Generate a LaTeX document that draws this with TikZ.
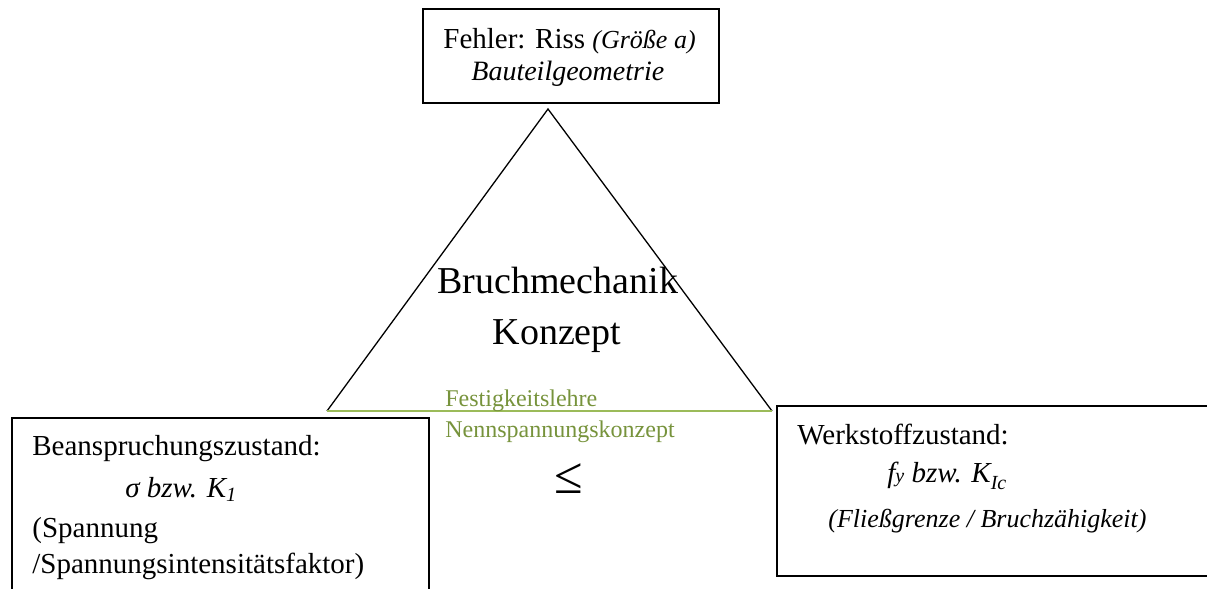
\documentclass[tikz,border=0pt]{standalone}
\usepackage{fontspec}
\setmainfont{Liberation Serif}
\usetikzlibrary{positioning}
\definecolor{olivetext}{RGB}{119,147,60}
\definecolor{oliveline}{RGB}{155,187,89}

\begin{document}
\begin{tikzpicture}[x=0.5pt, y=-0.5pt,
    txt/.style={anchor=base west, inner sep=0pt, font=\fontsize{14.5}{17}\selectfont},
    greentxt/.style={txt, text=olivetext, font=\fontsize{12}{14}\selectfont},
    bigtxt/.style={inner sep=0pt, font=\fontsize{19}{22}\selectfont},
    boxline/.style={draw=black, line width=0.65pt}]
    \clip (0,0) rectangle (1207,589);
    % boxes
    \draw[boxline] (423,9) rectangle (719,103);
    \draw[boxline] (12,418) rectangle (429,600);
    \draw[boxline] (777,406) rectangle (1220,576);
    % triangle
    \coordinate (apex) at (548,109);
    \coordinate (baseL) at (327,411);
    \coordinate (baseR) at (772,411);
    \draw[boxline] (baseL) -- (apex) -- (baseR);
    \draw[oliveline, line width=1pt] (baseL) -- (baseR);
    % top box
    \node[txt] (fehler) at (443,48) {Fehler: Riss \textit{\fontsize{13}{15}\selectfont(Größe a)}};
    \node[txt, font=\itshape\fontsize{14}{17}\selectfont] (geom) at (471,81) {Bauteilgeometrie};
    % centre
    \node[bigtxt, anchor=base west] (bruch) at (437,293) {Bruchmechanik};
    \node[bigtxt, anchor=base] (konzept) at (557,344) {Konzept};
    \node[greentxt] (festig) at (445,406) {Festigkeitslehre};
    \node[greentxt] (nenn) at (445,437) {Nennspannungskonzept};
    \node[anchor=base, inner sep=0pt, font=\fontsize{26}{28}\selectfont] (leq) at (569,493) {≤};
    % left box
    \node[txt] (bean) at (32,455) {Beanspruchungszustand:};
    \node[txt] (sigma) at (125,497) {\textit{σ bzw. K\textsubscript{1}}};
    \node[txt] (spann) at (32,537) {(Spannung};
    \node[txt] (intens) at (32,573) {/Spannungsintensitätsfaktor)};
    % right box
    \node[txt] (werk) at (797,444) {Werkstoffzustand:};
    \node[txt] (fy) at (887,482) {\textit{f{\fontsize{10}{12}\selectfont y} bzw. K\raisebox{-0.6ex}{\fontsize{10}{12}\selectfont Ic}}};
    \node[txt, font=\itshape\fontsize{13}{15}\selectfont] (fliess) at (828,527) {(Fließgrenze / Bruchzähigkeit)};
\end{tikzpicture}
\end{document}
